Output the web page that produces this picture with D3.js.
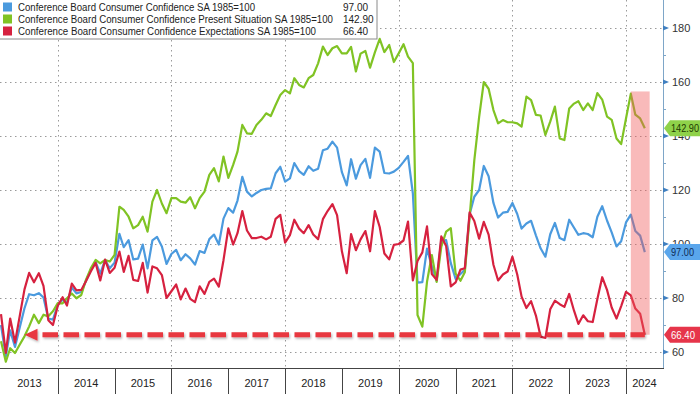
<!DOCTYPE html>
<html>
<head>
<meta charset="utf-8">
<script src="https://cdn.jsdelivr.net/npm/d3@7"></script>
<style>
body{margin:0;background:#fff;}
svg{display:block;font-family:"Liberation Sans",Arial,sans-serif;}
</style>
</head>
<body>
<div id="chart"></div>
<script>
// monthly values, Dec 2012 .. Apr 2024
var firstMonth = new Date(2012, 11, 1);
var confidence = [70,
58.4,68.0,61.9,69.0,76.2,81.4,81.0,81.8,80.2,72.4,72.0,77.5,
79.4,78.3,83.9,81.7,82.2,86.4,90.3,93.4,89.0,94.1,91.0,93.1,
103.8,98.8,101.4,94.3,94.6,99.8,91.0,101.3,102.6,99.1,92.6,96.3,
97.8,94.0,96.2,94.7,92.4,97.4,96.7,101.8,103.5,99.8,109.4,113.3,
111.6,116.1,124.9,119.4,117.6,118.9,120.0,120.4,120.6,126.2,128.6,123.1,
124.3,130.0,127.0,125.6,128.8,127.1,127.9,134.7,135.3,137.9,135.7,126.6,
121.7,131.4,124.2,129.2,131.5,124.5,135.7,134.2,126.3,126.1,126.8,128.2,
130.4,132.6,118.8,85.7,85.9,98.3,91.7,86.3,101.3,101.4,92.9,87.1,
88.9,90.4,111.0,117.5,120.0,128.9,125.1,115.2,109.8,111.6,111.9,115.2,
111.1,105.7,107.6,108.6,103.2,98.4,95.3,103.6,107.8,102.2,101.4,109.0,
106.0,103.4,104.0,103.7,102.5,110.1,114.0,108.7,104.3,99.1,101.0,108.0,
110.9,104.8,103.1,97.0];
var present = [64,
56.4,61.4,59.6,62.7,65.8,69.5,73.8,70.7,73.8,73.2,75.1,78.1,
78.0,79.9,81.7,79.9,81.1,86.7,91.0,94.1,92.8,94.1,93.5,96.0,
113.8,112.6,110.1,105.8,107.0,110.1,104.6,115.7,120.0,115.0,111.4,117.0,
117.0,115.7,115.3,117.3,113.2,117.0,119.4,125.6,128.1,123.2,132.4,124.5,
129.3,134.2,144.1,141.0,140.8,144.1,146.0,148.4,147.4,151.5,155.2,157.0,
155.8,161.4,158.9,158.0,161.4,162.6,166.9,173.1,170.0,172.5,173.3,170.6,
170.6,173.0,163.9,170.5,171.5,165.3,171.0,176.0,171.1,173.7,167.4,170.6,
174.0,169.4,167.0,73.7,69.4,86.0,95.9,86.0,99.0,104.6,105.9,89.0,
86.4,89.5,110.0,131.0,147.0,160.0,157.5,149.6,144.7,145.9,145.1,145.1,
144.7,143.5,154.6,153.3,147.8,147.6,140.4,145.3,150.9,139.1,138.5,150.2,
152.0,152.9,149.6,152.1,149.6,155.9,153.5,147.2,146.0,139.1,137.0,146.5,
155.7,147.9,146.5,142.9];
var expectations = [74,
59.7,72.4,63.5,73.2,83.2,89.3,85.8,89.2,84.5,71.8,70.0,77.1,
80.3,77.2,85.3,82.8,83.0,86.2,89.8,93.0,86.5,94.2,89.3,91.2,
97.2,89.7,95.6,86.7,86.3,93.0,82.0,91.7,91.0,88.5,80.0,82.5,
85.0,79.5,83.5,79.7,78.5,84.3,81.5,86.0,87.2,84.2,94.0,105.8,
99.8,104.0,112.2,105.0,102.2,102.2,102.7,101.7,102.7,109.3,110.8,100.5,
103.3,109.0,105.7,104.0,107.0,103.5,101.8,109.2,112.2,114.8,110.7,97.3,
89.2,103.7,97.7,101.7,104.8,97.3,112.2,106.3,96.5,94.3,99.7,100.0,
101.3,108.3,86.5,93.7,96.9,106.5,88.9,86.7,102.8,99.3,84.3,85.8,
90.5,91.0,111.7,108.5,102.0,108.2,103.5,92.3,86.5,88.7,89.8,95.3,
88.7,80.5,76.3,78.8,73.5,65.7,65.2,75.8,79.0,77.7,76.7,81.5,
75.3,70.4,73.6,71.4,71.1,79.6,87.7,83.0,76.5,72.4,77.0,82.3,
81.0,76.1,74.2,66.4];

var seriesNames = ["Conference Board Consumer Confidence SA 1985=100",
  "Conference Board Consumer Confidence Present Situation SA 1985=100",
  "Conference Board Consumer Confidence Expectations SA 1985=100"];
var lastLabels = ["97.00", "142.90", "66.40"];
var years = ["2013","2014","2015","2016","2017","2018","2019","2020","2021","2022","2023","2024"];
var yTicks = [60, 80, 100, 120, 140, 160, 180];
var yMinor = [70, 90, 110, 130, 150, 170];

// annotations
var floorValue = 66.4;
var arrowFrom = new Date(2013, 4, 1), arrowTo = new Date(2024, 3, 1);
var shadeFrom = new Date(2024, 0, 1), shadeTo = new Date(2024, 4, 1), shadeTop = 156.5;

var colors = ["#4b9ade", "#80c324", "#d6213f"];
var W = 700, H = 394, plotR = 663, plotB = 368;

var svg = d3.select("#chart").append("svg")
  .attr("width", W)
  .attr("height", H);

var defs = svg.append("defs");
defs.append("clipPath").attr("id", "clip")
  .append("rect").attr("x", 0).attr("y", 0).attr("width", plotR).attr("height", plotB);
defs.append("filter").attr("id", "shadow")
  .attr("x", "-5%").attr("y", "-50%").attr("width", "110%").attr("height", "200%")
  .append("feDropShadow")
  .attr("dx", 1).attr("dy", 1.5).attr("stdDeviation", 1)
  .attr("flood-color", "#000").attr("flood-opacity", 0.3);

// month-end position of a month
function monthEnd(d) { return d3.timeMonth.offset(d, 1); }
var months = d3.timeMonth.range(firstMonth, d3.timeMonth.offset(firstMonth, confidence.length));

var x = d3.scaleTime()
  .domain([new Date(2013, 0, 1), new Date(2024, 0, 1)])
  .range([1, 626]);
var y = d3.scaleLinear()
  .domain([60, 180])
  .range([352, 28]);

// grid
var grid = svg.append("g").attr("stroke", "#9a9a9a").attr("stroke-dasharray", "1.5,3.5");
grid.selectAll(".hg").data(yTicks).enter().append("line")
  .attr("x1", 0).attr("x2", plotR)
  .attr("y1", function(d){ return Math.round(y(d)) + 0.5; })
  .attr("y2", function(d){ return Math.round(y(d)) + 0.5; });
var gridYears = d3.range(2014, 2025, 2);
grid.selectAll(".vg").data(gridYears).enter().append("line")
  .attr("y1", 0).attr("y2", plotB)
  .attr("x1", function(d){ return Math.round(x(new Date(d, 0, 1))) + 0.5; })
  .attr("x2", function(d){ return Math.round(x(new Date(d, 0, 1))) + 0.5; });

// series lines
var plot = svg.append("g").attr("clip-path", "url(#clip)");
var allSeries = [confidence, present, expectations];
var line = d3.line()
  .x(function(d, i){ return x(monthEnd(months[i])); })
  .y(function(d){ return y(d); });
plot.selectAll(".series").data(allSeries).enter().append("path")
  .attr("fill", "none")
  .attr("stroke", function(d, i){ return colors[i]; })
  .attr("stroke-width", 2.2)
  .attr("stroke-linejoin", "round")
  .attr("d", line);

// highlight of 2024
plot.append("rect")
  .attr("x", x(monthEnd(shadeFrom)))
  .attr("y", y(shadeTop))
  .attr("width", x(monthEnd(shadeTo)) - x(monthEnd(shadeFrom)))
  .attr("height", y(floorValue) - y(shadeTop))
  .attr("fill", "rgb(240,90,90)")
  .attr("opacity", 0.42);

// dashed floor with arrow
var fy = y(floorValue);
var tipX = x(monthEnd(arrowFrom));
var arrowG = svg.append("g").attr("filter", "url(#shadow)");
arrowG.append("line")
  .attr("x1", tipX + 18).attr("x2", x(monthEnd(arrowTo)))
  .attr("y1", fy).attr("y2", fy)
  .attr("stroke", "#e8373f")
  .attr("stroke-width", 5)
  .attr("stroke-dasharray", "15.5,5.5");
arrowG.append("path")
  .attr("d", "M" + tipX + "," + fy + "L" + (tipX + 13) + "," + (fy - 6) + "L" + (tipX + 13) + "," + (fy + 6) + "Z")
  .attr("fill", "#e8373f");

// right axis
svg.append("line")
  .attr("x1", plotR + 0.5).attr("x2", plotR + 0.5)
  .attr("y1", 0).attr("y2", plotB)
  .attr("stroke", "#7ea6c8");
svg.selectAll(".minor").data(yMinor).enter().append("line")
  .attr("x1", plotR).attr("x2", plotR + 3)
  .attr("y1", function(d){ return Math.round(y(d)) + 0.5; })
  .attr("y2", function(d){ return Math.round(y(d)) + 0.5; })
  .attr("stroke", "#7ea6c8");
svg.selectAll(".major").data(yTicks).enter().append("path")
  .attr("d", function(d){ var t = y(d); return "M" + plotR + "," + (t - 2.5) + "L" + (plotR + 6) + "," + t + "L" + plotR + "," + (t + 2.5) + "Z"; })
  .attr("fill", "#3f7fc0");
svg.selectAll(".ylab").data(yTicks).enter().append("text")
  .attr("x", plotR + 9)
  .attr("y", function(d){ return y(d); })
  .attr("dy", "0.36em")
  .attr("font-size", 11)
  .attr("fill", "#333")
  .text(function(d){ return d; });

// last value tags, drawn over the axis labels as in the source
var tagFill = ["#5aa6ec", "#8fd24a", "#e6354a"];
var tagText = ["#0e2c57", "#1e3a00", "#ffffff"];
var tagLen = [23, 28, 24];
var lastVals = [confidence[confidence.length - 1], present[present.length - 1], expectations[expectations.length - 1]];
var tags = svg.selectAll(".tag").data(lastVals).enter().append("g");
tags.append("path")
  .attr("d", function(d){ var t = y(d); return "M" + (plotR + 1) + "," + t + "L" + (plotR + 7) + "," + (t - 8) + "L" + W + "," + (t - 8) + "L" + W + "," + (t + 8) + "L" + (plotR + 7) + "," + (t + 8) + "Z"; })
  .attr("fill", function(d, i){ return tagFill[i]; });
tags.append("text")
  .attr("x", plotR + 8)
  .attr("y", function(d){ return y(d); })
  .attr("dy", "0.36em")
  .attr("font-size", 10.5)
  .attr("textLength", function(d, i){ return tagLen[i]; })
  .attr("lengthAdjust", "spacingAndGlyphs")
  .attr("fill", function(d, i){ return tagText[i]; })
  .text(function(d, i){ return lastLabels[i]; });

// bottom year strip
svg.append("line")
  .attr("x1", 0).attr("x2", plotR + 1)
  .attr("y1", plotB + 0.5).attr("y2", plotB + 0.5)
  .attr("stroke", "#444");
var yearStarts = years.map(function(d){ return x(new Date(+d, 0, 1)); });
svg.selectAll(".ydiv").data(yearStarts.slice(1)).enter().append("line")
  .attr("x1", function(d){ return Math.round(d) + 0.5; })
  .attr("x2", function(d){ return Math.round(d) + 0.5; })
  .attr("y1", plotB).attr("y2", H)
  .attr("stroke", "#444");
svg.selectAll(".ylabel").data(years).enter().append("text")
  .attr("x", function(d, i){ var end = i < years.length - 1 ? yearStarts[i + 1] : plotR; return (yearStarts[i] + end) / 2; })
  .attr("y", 387)
  .attr("text-anchor", "middle")
  .attr("font-size", 11)
  .attr("fill", "#222")
  .text(function(d){ return d; });

// legend
var legend = svg.append("g");
legend.append("rect")
  .attr("x", -1).attr("y", -1).attr("width", 378).attr("height", 40)
  .attr("fill", "#fff").attr("stroke", "#8a8a8a");
var legendW = [237, 315, 298];
var rows = legend.selectAll(".row").data(seriesNames).enter().append("g")
  .attr("transform", function(d, i){ return "translate(0," + (7 + i * 12) + ")"; });
rows.append("rect")
  .attr("x", 3).attr("y", -4.5).attr("width", 9).attr("height", 9)
  .attr("fill", function(d, i){ return colors[i]; });
rows.append("text")
  .attr("x", 18).attr("dy", "0.36em")
  .attr("font-size", 10)
  .attr("fill", "#222")
  .attr("textLength", function(d, i){ return legendW[i]; })
  .attr("lengthAdjust", "spacingAndGlyphs")
  .text(function(d){ return d; });
rows.append("text")
  .attr("x", 343).attr("dy", "0.36em")
  .attr("font-size", 10)
  .attr("fill", "#222")
  .text(function(d, i){ return lastLabels[i]; });
</script>
</body>
</html>
